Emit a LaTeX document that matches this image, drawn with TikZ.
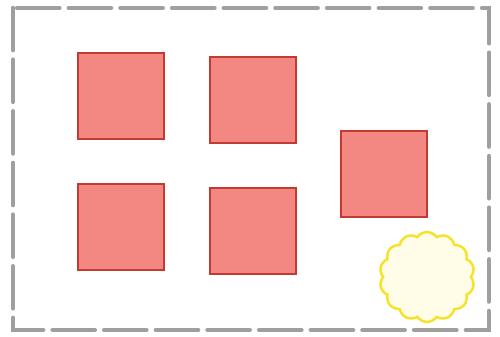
\documentclass[tikz,border=0pt]{standalone}
\usetikzlibrary{shapes.symbols}

\definecolor{boxfill}{RGB}{243,136,130}
\definecolor{boxline}{RGB}{196,58,48}
\definecolor{puffline}{RGB}{246,226,40}
\definecolor{pufffill}{RGB}{255,253,232}

\begin{document}
\begin{tikzpicture}[
  x=0.02cm, y=-0.02cm,
  sq/.style={draw=boxline, fill=boxfill, line width=0.9pt, minimum width=1.72cm, minimum height=1.72cm, inner sep=0pt},
  puff/.style={cloud, cloud puffs=14, cloud puff arc=110, aspect=1.05, draw=puffline, fill=pufffill, line width=1.4pt, minimum width=1.9cm, minimum height=1.8cm, inner sep=0pt},
  frame/.style={draw=gray!75, line width=2.6pt, line cap=round, dash pattern=on 24pt off 5.4pt}
]
  \useasboundingbox (0,0) rectangle (500,337);

  \draw[frame] (13,8) rectangle (489,330);

  \node[sq] (s1) at (121,96) {};
  \node[sq] (s2) at (253,100) {};
  \node[sq] (s3) at (384,174) {};
  \node[sq] (s4) at (121,227) {};
  \node[sq] (s5) at (253,231) {};

  \node[puff] (c1) at (427,277) {};
\end{tikzpicture}
\end{document}
